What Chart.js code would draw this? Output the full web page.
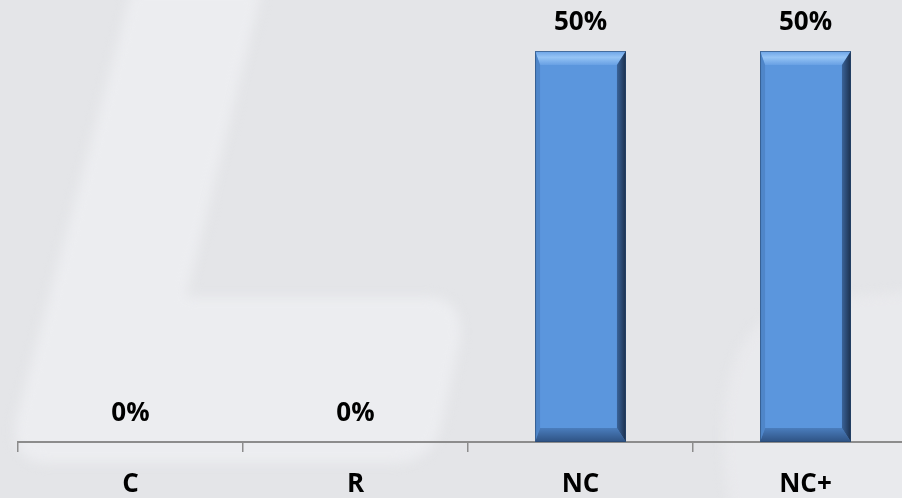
<!DOCTYPE html>
<html>
<head>
<meta charset="utf-8">
<script src="https://cdn.jsdelivr.net/npm/chart.js@4.4.1/dist/chart.umd.min.js"></script>
<style>
  html, body { margin: 0; padding: 0; overflow: hidden; background: #e5e6e9; }
  #wrap { position: relative; width: 920px; height: 498px; }
</style>
</head>
<body>
<div id="wrap"><canvas id="chart"></canvas></div>
<script>
// rating bands and share of items in each
const categories = ['C', 'R', 'NC', 'NC+'];
const shares = [0, 0, 50, 50];

const FONT = "'Open Sans', 'Liberation Sans', sans-serif";

// soft grey backdrop with a pale slanted "L" watermark
const backdrop = {
  id: 'backdrop',
  beforeDraw(chart) {
    const { ctx, width, height } = chart;
    ctx.save();
    ctx.fillStyle = '#e4e5e8';
    ctx.fillRect(0, 0, width, height);

    ctx.filter = 'blur(6px)';
    ctx.fillStyle = '#ecedf0';
    ctx.beginPath();
    ctx.moveTo(132, -10);
    ctx.lineTo(262, -10);
    ctx.lineTo(186, 297);
    ctx.lineTo(430, 297);
    ctx.quadraticCurveTo(465, 300, 460, 340);
    ctx.lineTo(440, 430);
    ctx.quadraticCurveTo(430, 462, 395, 463);
    ctx.lineTo(45, 463);
    ctx.quadraticCurveTo(10, 460, 16, 420);
    ctx.closePath();
    ctx.fill();

    // faint lighter blob bottom right
    ctx.fillStyle = 'rgba(236,237,240,0.6)';
    ctx.beginPath();
    ctx.moveTo(730, 510);
    ctx.quadraticCurveTo(700, 330, 800, 300);
    ctx.lineTo(930, 290);
    ctx.lineTo(930, 510);
    ctx.closePath();
    ctx.fill();
    ctx.restore();
  }
};

// bevelled edges on each bar
const bevel = {
  id: 'bevel',
  afterDatasetsDraw(chart) {
    const { ctx } = chart;
    const meta = chart.getDatasetMeta(0);
    meta.data.forEach((bar, i) => {
      if (!shares[i]) return;
      const { x, y, base, width } = bar.getProps(['x', 'y', 'base', 'width'], true);
      const l = x - width / 2, r = x + width / 2, t = y, b = base;
      const bv = 14, br = 9, bl = 5;
      ctx.save();

      // top face
      let g = ctx.createLinearGradient(0, t, 0, t + bv);
      g.addColorStop(0, '#6aa2e6');
      g.addColorStop(0.45, '#95c4f5');
      g.addColorStop(1, '#68a0e4');
      ctx.fillStyle = g;
      ctx.beginPath();
      ctx.moveTo(l, t); ctx.lineTo(r, t); ctx.lineTo(r - br, t + bv); ctx.lineTo(l + bl, t + bv);
      ctx.closePath(); ctx.fill();

      // left face
      ctx.fillStyle = '#4f86c9';
      ctx.beginPath();
      ctx.moveTo(l, t); ctx.lineTo(l + bl, t + bv); ctx.lineTo(l + bl, b - bv); ctx.lineTo(l, b);
      ctx.closePath(); ctx.fill();

      // bottom face
      g = ctx.createLinearGradient(0, b - bv, 0, b);
      g.addColorStop(0, '#4a7dbd');
      g.addColorStop(1, '#2e5283');
      ctx.fillStyle = g;
      ctx.beginPath();
      ctx.moveTo(l, b); ctx.lineTo(r, b); ctx.lineTo(r - br, b - bv); ctx.lineTo(l + bl, b - bv);
      ctx.closePath(); ctx.fill();

      // right face
      g = ctx.createLinearGradient(r - br, 0, r, 0);
      g.addColorStop(0, '#3a6399');
      g.addColorStop(1, '#1b2f4c');
      ctx.fillStyle = g;
      ctx.beginPath();
      ctx.moveTo(r, t); ctx.lineTo(r, b); ctx.lineTo(r - br, b - bv); ctx.lineTo(r - br, t + bv);
      ctx.closePath(); ctx.fill();

      ctx.strokeStyle = 'rgba(40,70,110,0.6)';
      ctx.lineWidth = 1;
      ctx.strokeRect(l + 0.5, t + 0.5, width - 1, b - t - 1);
      ctx.restore();
    });
  }
};

// percentage above each bar
const valueLabels = {
  id: 'valueLabels',
  afterDatasetsDraw(chart) {
    const { ctx } = chart;
    const meta = chart.getDatasetMeta(0);
    ctx.save();
    ctx.font = `bold 26px ${FONT}`;
    ctx.fillStyle = '#000000';
    ctx.textAlign = 'center';
    ctx.textBaseline = 'middle';
    meta.data.forEach((bar, i) => {
      ctx.fillText(`${shares[i]}%`, bar.x, bar.y - 28);
    });
    ctx.restore();
  }
};

new Chart(document.getElementById('chart'), {
  type: 'bar',
  data: {
    labels: categories,
    datasets: [{
      data: shares,
      backgroundColor: '#5b96dd',
      borderWidth: 0,
      barPercentage: 0.404,
      categoryPercentage: 1
    }]
  },
  options: {
    responsive: true,
    maintainAspectRatio: false,
    animation: false,
    events: [],
    layout: { padding: { top: 51, left: 18, right: 2, bottom: 0 } },
    plugins: { legend: { display: false }, tooltip: { enabled: false } },
    scales: {
      x: {
        grid: { offset: true, drawOnChartArea: false, drawTicks: true, tickLength: 10, color: '#8c8c8c', lineWidth: 1.5 },
        border: { display: true, color: '#8c8c8c', width: 2 },
        ticks: { font: { family: FONT, size: 26, weight: 'bold' }, color: '#000000', padding: 17 },
        afterFit(scale) { scale.height = 56; }
      },
      y: { display: false, min: 0, max: 50 }
    }
  },
  plugins: [backdrop, bevel, valueLabels]
});
</script>
</body>
</html>
